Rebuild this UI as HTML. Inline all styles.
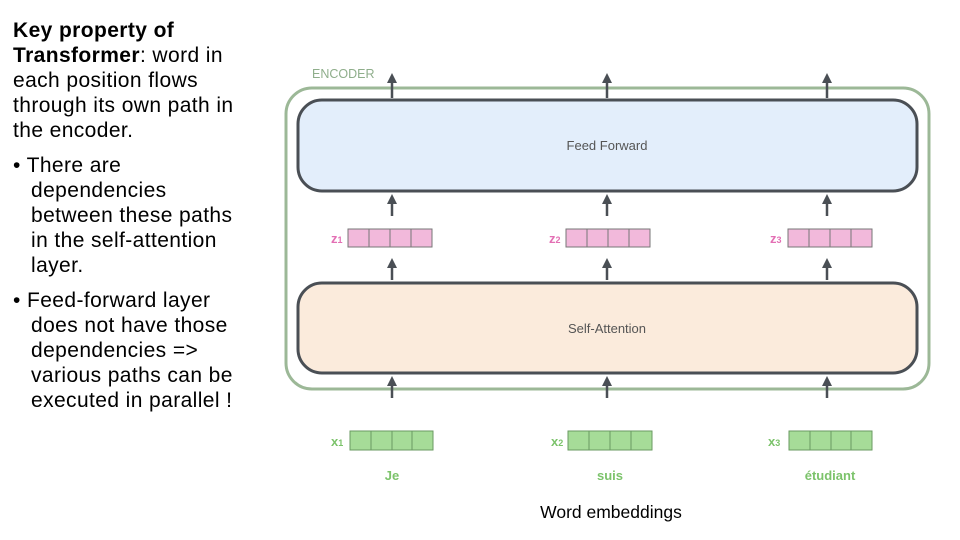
<!DOCTYPE html>
<html><head><meta charset="utf-8"><style>
body{margin:0;width:960px;height:540px;background:#fff;position:relative;overflow:hidden;font-family:"Liberation Sans",sans-serif}
.t{position:absolute;left:13px;font-size:21px;line-height:25px;color:#000;white-space:nowrap;letter-spacing:0.4px}
</style></head><body>
<div class="t" style="top:18px"><b>Key property of<br>Transformer</b>: word in<br>each position flows<br>through its own path in<br>the encoder.</div>
<div class="t" style="top:153px">• There are<br><span style="padding-left:18px">dependencies</span><br><span style="padding-left:18px">between these paths</span><br><span style="padding-left:18px">in the self-attention</span><br><span style="padding-left:18px">layer.</span></div>
<div class="t" style="top:288px">• Feed-forward layer<br><span style="padding-left:18px">does not have those</span><br><span style="padding-left:18px">dependencies =&gt;</span><br><span style="padding-left:18px">various paths can be</span><br><span style="padding-left:18px">executed in parallel !</span></div>
<svg width="960" height="540" style="position:absolute;left:0;top:0" font-family="Liberation Sans, sans-serif">
<defs><marker id="a" markerWidth="4" markerHeight="4" refX="2" refY="2" orient="auto" markerUnits="strokeWidth"><path d="M0,0 L4,2 L0,4 z" fill="#4a4f55"/></marker></defs>
<text x="312" y="78" font-size="12.5" fill="#8fae8b">ENCODER</text>
<rect x="286" y="88" width="643" height="301" rx="26" fill="none" stroke="#9cb897" stroke-width="3"/>
<rect x="298" y="100" width="619" height="91" rx="24" fill="#e3eefb" stroke="#4a4f55" stroke-width="3"/>
<text x="607" y="150" font-size="13" fill="#555" text-anchor="middle">Feed Forward</text>
<rect x="298" y="283" width="619" height="90" rx="24" fill="#fbebdc" stroke="#4a4f55" stroke-width="3"/>
<text x="607" y="333" font-size="13" fill="#555" text-anchor="middle">Self-Attention</text>
<g stroke="#4a4f55" stroke-width="2.5">
<line x1="392" y1="98" x2="392" y2="78" marker-end="url(#a)"/><line x1="607" y1="98" x2="607" y2="78" marker-end="url(#a)"/><line x1="827" y1="98" x2="827" y2="78" marker-end="url(#a)"/>
<line x1="392" y1="216" x2="392" y2="199" marker-end="url(#a)"/><line x1="607" y1="216" x2="607" y2="199" marker-end="url(#a)"/><line x1="827" y1="216" x2="827" y2="199" marker-end="url(#a)"/>
<line x1="392" y1="280" x2="392" y2="263" marker-end="url(#a)"/><line x1="607" y1="280" x2="607" y2="263" marker-end="url(#a)"/><line x1="827" y1="280" x2="827" y2="263" marker-end="url(#a)"/>
<line x1="392" y1="398" x2="392" y2="381" marker-end="url(#a)"/><line x1="607" y1="398" x2="607" y2="381" marker-end="url(#a)"/><line x1="827" y1="398" x2="827" y2="381" marker-end="url(#a)"/>
</g>
<g fill="#f2b9db" stroke="#777" stroke-width="1">
<rect x="348" y="229" width="84" height="18"/><line x1="369" y1="229" x2="369" y2="247"/><line x1="390" y1="229" x2="390" y2="247"/><line x1="411" y1="229" x2="411" y2="247"/>
<rect x="566" y="229" width="84" height="18"/><line x1="587" y1="229" x2="587" y2="247"/><line x1="608" y1="229" x2="608" y2="247"/><line x1="629" y1="229" x2="629" y2="247"/>
<rect x="788" y="229" width="84" height="18"/><line x1="809" y1="229" x2="809" y2="247"/><line x1="830" y1="229" x2="830" y2="247"/><line x1="851" y1="229" x2="851" y2="247"/>
</g>
<g fill="#e36fb4" font-size="13" font-weight="bold"><text x="331" y="243">z<tspan font-size="9">1</tspan></text><text x="549" y="243">z<tspan font-size="9">2</tspan></text><text x="770" y="243">z<tspan font-size="9">3</tspan></text></g>
<g fill="#a6dc98" stroke="#6a9a62" stroke-width="1">
<rect x="350" y="431" width="83" height="19"/><line x1="371" y1="431" x2="371" y2="450"/><line x1="392" y1="431" x2="392" y2="450"/><line x1="412" y1="431" x2="412" y2="450"/>
<rect x="568" y="431" width="84" height="19"/><line x1="589" y1="431" x2="589" y2="450"/><line x1="610" y1="431" x2="610" y2="450"/><line x1="631" y1="431" x2="631" y2="450"/>
<rect x="789" y="431" width="83" height="19"/><line x1="810" y1="431" x2="810" y2="450"/><line x1="831" y1="431" x2="831" y2="450"/><line x1="851" y1="431" x2="851" y2="450"/>
</g>
<g fill="#7cc36b" font-size="13" font-weight="bold"><text x="331" y="446">x<tspan font-size="9">1</tspan></text><text x="551" y="446">x<tspan font-size="9">2</tspan></text><text x="768" y="446">x<tspan font-size="9">3</tspan></text>
<text x="392" y="480" text-anchor="middle">Je</text><text x="610" y="480" text-anchor="middle">suis</text><text x="830" y="480" text-anchor="middle">étudiant</text></g>
<text x="611" y="518" font-size="17.5" fill="#000" text-anchor="middle">Word embeddings</text>
</svg>
</body></html>
